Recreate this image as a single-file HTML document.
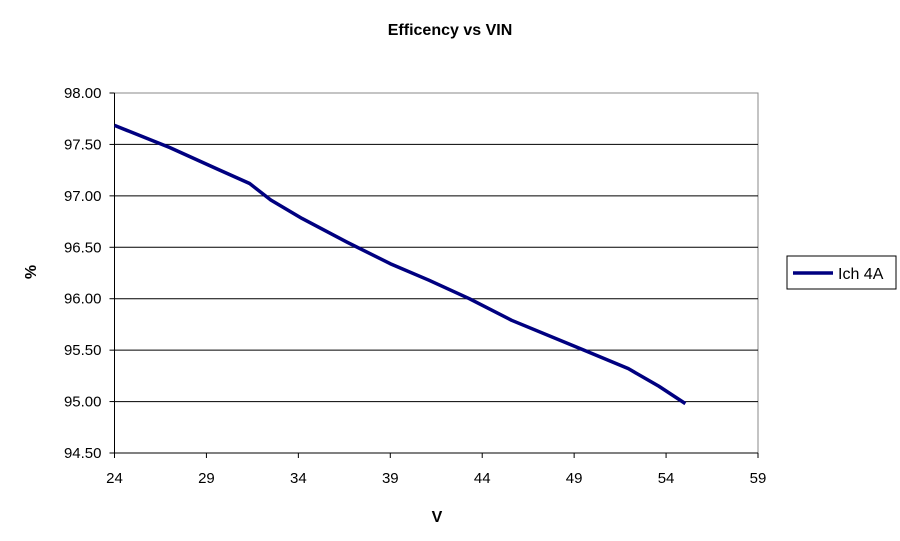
<!DOCTYPE html>
<html><head><meta charset="utf-8"><style>
html,body{margin:0;padding:0;background:#fff;}
svg{display:block;font-family:"Liberation Sans",Arial,sans-serif;}
</style></head><body>
<svg id="chart" width="900" height="541" viewBox="0 0 900 541">
<text x="450" y="35" text-anchor="middle" font-size="16" font-weight="bold">Efficency vs VIN</text>
<g id="grid"></g>
<g id="axes"></g>
<g id="series"></g>
<text x="437" y="522" text-anchor="middle" font-size="16" font-weight="bold">V</text>
<text transform="translate(36,272) rotate(-90)" text-anchor="middle" font-size="16" font-weight="bold">%</text>
<g>
<rect x="787" y="256" width="109" height="33" fill="#fff" stroke="#000" stroke-width="1"/>
<line x1="793" y1="273" x2="833" y2="273" stroke="#000080" stroke-width="3.5"/>
<text x="838" y="279" font-size="16">Ich 4A</text>
</g>
</svg>
<script>
const xTicks=[24,29,34,39,44,49,54,59];
const yTicks=[94.5,95.0,95.5,96.0,96.5,97.0,97.5,98.0];
const vin=[24,27,29.6,31.35,32.5,34.2,36.65,39,41.1,43.3,45.6,49.4,51.95,53.6,55.05];
const eff=[97.685,97.47,97.26,97.12,96.96,96.78,96.55,96.34,96.18,96.0,95.79,95.51,95.32,95.15,94.98];
const L=114.5,R=758,T=93,B=453;
const X=v=>L+(v-24)/(59-24)*(R-L);
const Y=v=>B-(v-94.5)/(98-94.5)*(B-T);
const NS="http://www.w3.org/2000/svg";
const grid=document.getElementById('grid'),axes=document.getElementById('axes'),ser=document.getElementById('series');
function mk(tag,attrs,parent){const e=document.createElementNS(NS,tag);for(const k in attrs)e.setAttribute(k,attrs[k]);parent.appendChild(e);return e;}
const frame=mk('rect',{x:L,y:T,width:R-L,height:B-T,fill:'none',stroke:'#888','stroke-width':1},grid);


yTicks.forEach(v=>{
  if(v>94.5&&v<98){const g=mk('line',{x1:L,x2:R,y1:Y(v),y2:Y(v),stroke:'#000','stroke-width':1},grid);
  
  }
  const t=mk('line',{x1:L-5,x2:L,y1:Y(v),y2:Y(v),stroke:'#000'},axes);
  
  
  const lb=mk('text',{x:L-13,y:Y(v)+5,'text-anchor':'end','font-size':15},axes);
  lb.textContent=v.toFixed(2);
  
  
});
xTicks.forEach(v=>{
  const t=mk('line',{x1:X(v),x2:X(v),y1:B,y2:B+5,stroke:'#000'},axes);
  
  
  const lb=mk('text',{x:X(v),y:B+30,'text-anchor':'middle','font-size':15},axes);
  lb.textContent=v;
  
  
});
const yAx=mk('line',{x1:L,x2:L,y1:T,y2:B,stroke:'#000'},axes);


const xAx=mk('line',{x1:L,x2:R,y1:B,y2:B,stroke:'#000'},axes);


const p=mk('polyline',{points:vin.map((v,i)=>X(v)+','+Y(eff[i])).join(' '),fill:'none',stroke:'#000080','stroke-width':3.5,'stroke-linejoin':'round'},ser);


</script>
</body></html>
